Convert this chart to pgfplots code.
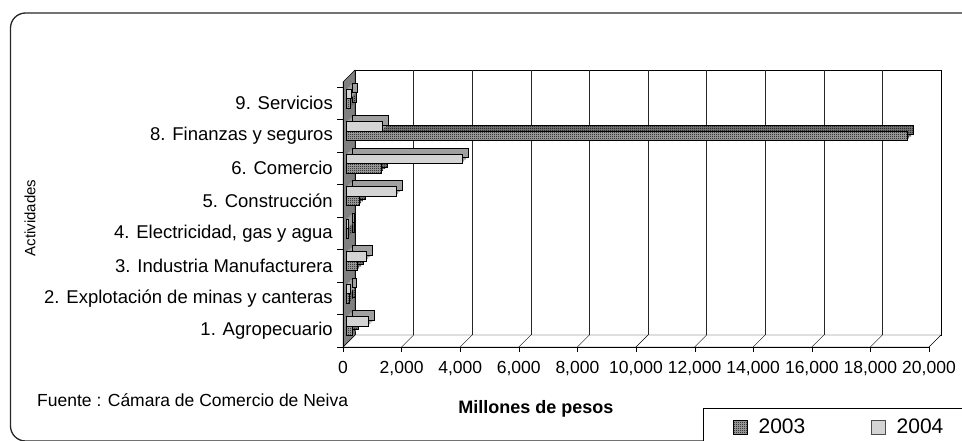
\documentclass[border=0pt]{standalone}
\usepackage{fontspec}
\setmainfont{Liberation Sans}
\usepackage{pgfplots}
\pgfplotsset{compat=1.18}
\usepackage{pgfplotstable}
\usetikzlibrary{patterns}
\pgfdeclarepatternformonly{checker}{\pgfqpoint{0pt}{0pt}}{\pgfqpoint{2pt}{2pt}}{\pgfqpoint{2pt}{2pt}}{%
 \pgfpathrectangle{\pgfqpoint{0pt}{0pt}}{\pgfqpoint{1pt}{1pt}}%
 \pgfpathrectangle{\pgfqpoint{1pt}{1pt}}{\pgfqpoint{1pt}{1pt}}%
 \pgfusepath{fill}}
\definecolor{lg}{RGB}{212,212,212}
\definecolor{mg}{RGB}{160,160,160}
\definecolor{wallg}{RGB}{128,128,128}
\definecolor{chk}{RGB}{170,170,170}

\pgfplotstableread{
y  v2003  v2004
1  200    760
2  100    140
3  380    690
4  60     80
5  440    1710
6  1200   3960
7  19150  1230
8  150    170
}\datatable

\begin{document}
\begin{tikzpicture}[x=1pt,y=1pt]
\useasboundingbox (0,0) rectangle (962,440);
% outer frame
\draw[line width=1.3pt, black!85, rounded corners=15pt] (10.5,-1) rectangle (990,427);
% back wall and grid
\draw[black, fill=white] (355,105) rectangle (941,370);
\foreach \k in {1,...,9} \draw[black!85] ({355+58.6*\k},105) -- ({355+58.6*\k},370);
% floor
\draw[black, fill=white] (343,93) -- (929,93) -- (941,105) -- (355,105) -- cycle;
\foreach \k in {1,...,9} \draw ({343+58.6*\k},93) -- ({355+58.6*\k},105);
% left wall
\draw[black, fill=wallg] (343,93) -- (355,105) -- (355,370) -- (343,358) -- cycle;
\foreach \k in {0,...,8} \draw (337,{93+32.5*\k}) -- (343,{93+32.5*\k});
% source note
\node[anchor=base west, inner sep=0pt, font=\fontsize{17.5}{21}\selectfont] at (37,34) {Fuente : Cámara de Comercio de Neiva};

\begin{axis}[
  at={(343pt,93pt)}, anchor=south west, scale only axis,
  width=586pt, height=265pt,
  xmin=0, xmax=20000, ymin=0.5, ymax=8.654,
  axis lines*=left, axis line style={black},
  xbar,
  xtick={0,2000,...,20000}, tick align=outside, major tick length=5pt,
  xtick style={black},
  ytick={1,...,8}, ytick style={draw=none},
  yticklabels={{1. Agropecuario},{2. Explotación de minas y canteras},{3. Industria Manufacturera\hspace{16pt}},{4. Electricidad, gas y agua},{5. Construcción},{6. Comercio},{8. Finanzas y seguros},{9. Servicios\hspace{5pt}}},
  scaled x ticks=false,
  xticklabel style={font=\fontsize{17.5}{20}\selectfont, inner sep=0pt, yshift=-9pt,
    /pgf/number format/.cd, fixed, 1000 sep={,}, assume math mode=true},
  yticklabel style={font=\fontsize{18.5}{22}\selectfont, inner sep=0pt, xshift=-5pt},
  ylabel={Actividades},
  ylabel style={at={(axis description cs:-0.534,0.487)}, anchor=center, font=\fontsize{15}{18}\selectfont},
  xlabel={Millones de pesos},
  xlabel style={at={(axis description cs:0.329,-0.2528)}, anchor=base, font=\fontsize{18}{22}\selectfont\bfseries},
  bar width=0.29,
  legend columns=2,
  legend style={at={(axis description cs:0.6143,-0.2302)}, anchor=north west, draw=black,
    font=\fontsize{21}{25}\selectfont, inner xsep=30pt, inner ysep=8pt,
    nodes={inner sep=3pt},
    /tikz/every odd column/.append style={column sep=8pt},
    /tikz/every even column/.append style={column sep=63pt}},
]
\addlegendimage{legend image code/.code={\draw[black, fill=chk, postaction={pattern=checker}] (0pt,-7pt) rectangle (14pt,7pt);}}
\addlegendentry{2003}
\addlegendimage{legend image code/.code={\draw[black!70, fill=lg] (0pt,-7pt) rectangle (14pt,7pt);}}
\addlegendentry{2004}

% 2003 depth (extrusion)
\addplot[forget plot, draw=none, fill=wallg, postaction={pattern=checker}, xshift=5pt, yshift=2pt, bar shift=0] table[x=v2003,y=y]{\datatable};
\addplot[forget plot, draw=none, fill=wallg, postaction={pattern=checker}, xshift=7pt, yshift=4pt, bar shift=0] table[x=v2003,y=y]{\datatable};
\addplot[forget plot, draw=black, fill=wallg, postaction={pattern=checker}, xshift=9pt, yshift=6pt, bar shift=0] table[x=v2003,y=y]{\datatable};
% 2003 front face
\addplot[forget plot, draw=black, fill=chk, postaction={pattern=checker}, xshift=3pt, bar shift=0] table[x=v2003,y=y]{\datatable};
% 2004 depth (extrusion)
\addplot[forget plot, draw=none, fill=mg, xshift=5pt, yshift=2pt, bar shift=0.29] table[x=v2004,y=y]{\datatable};
\addplot[forget plot, draw=none, fill=mg, xshift=7pt, yshift=4pt, bar shift=0.29] table[x=v2004,y=y]{\datatable};
\addplot[forget plot, draw=black, fill=mg, xshift=9pt, yshift=6pt, bar shift=0.29] table[x=v2004,y=y]{\datatable};
% 2004 front face
\addplot[forget plot, draw=black, fill=lg, xshift=3pt, bar shift=0.29] table[x=v2004,y=y]{\datatable};
\end{axis}
\end{tikzpicture}
\end{document}
